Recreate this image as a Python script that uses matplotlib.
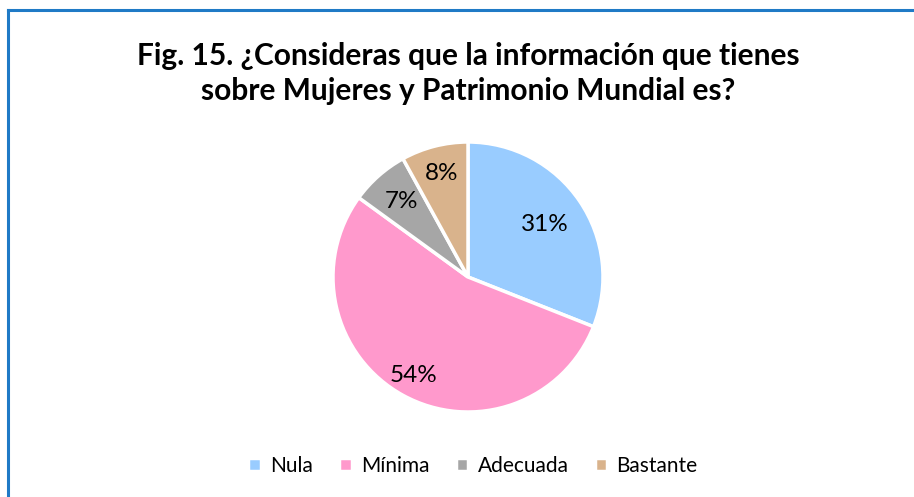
import matplotlib
matplotlib.use("Agg")
from matplotlib import pyplot as plt
from matplotlib.lines import Line2D
import numpy as np

categories = ['Nula', 'Mínima', 'Adecuada', 'Bastante']
values = [31, 54, 7, 8]
colors = ['#99CCFF', '#FF99CC', '#A6A6A6', '#D9B38C']
label_r = [0.69, 0.83, 0.75, 0.79]

plt.rcParams['font.family'] = ['Lato', 'DejaVu Sans']

W, H = 914, 497
fig = plt.figure(figsize=(W / 100, H / 100), dpi=100)

# border of the chart area (runs off the right and bottom edges)
bc = '#1F7AC6'
fig.add_artist(Line2D([8 / W, 1.0], [1 - 10 / H, 1 - 10 / H], color=bc, lw=2.2,
                      transform=fig.transFigure))
fig.add_artist(Line2D([8 / W, 8 / W], [1 - 10 / H, 0.0], color=bc, lw=2.2,
                      transform=fig.transFigure))

fig.text(468 / W, 1 - 56 / H, 'Fig. 15. ¿Consideras que la información que tienes',
         ha='center', va='center', fontsize=21.5, fontweight='bold')
fig.text(468 / W, 1 - 91 / H, 'sobre Mujeres y Patrimonio Mundial es?',
         ha='center', va='center', fontsize=21.5, fontweight='bold')

cx, cy, r = 468, 277, 135
ax = fig.add_axes([(cx - r) / W, 1 - (cy + r) / H, 2 * r / W, 2 * r / H])
wedges, texts, autotexts = ax.pie(values, colors=colors, startangle=90, counterclock=False,
                                  autopct='%1.0f%%', radius=1.0,
                                  wedgeprops=dict(edgecolor='white', linewidth=2.5),
                                  textprops=dict(fontsize=17.5, color='#000000'))
ax.set_xlim(-1, 1)
ax.set_ylim(-1, 1)
ax.set_aspect('equal')
ax.axis('off')

for w, t, rr in zip(wedges, autotexts, label_r):
    ang = np.deg2rad((w.theta1 + w.theta2) / 2)
    t.set_position((rr * np.cos(ang), rr * np.sin(ang)))

fig.legend(wedges, categories, loc='center', bbox_to_anchor=(473 / W, 1 - 466 / H),
           ncol=4, frameon=False, fontsize=15, handlelength=0.6, handleheight=0.6,
           handletextpad=0.45, columnspacing=1.25)

fig.savefig('out.png', dpi=100)
